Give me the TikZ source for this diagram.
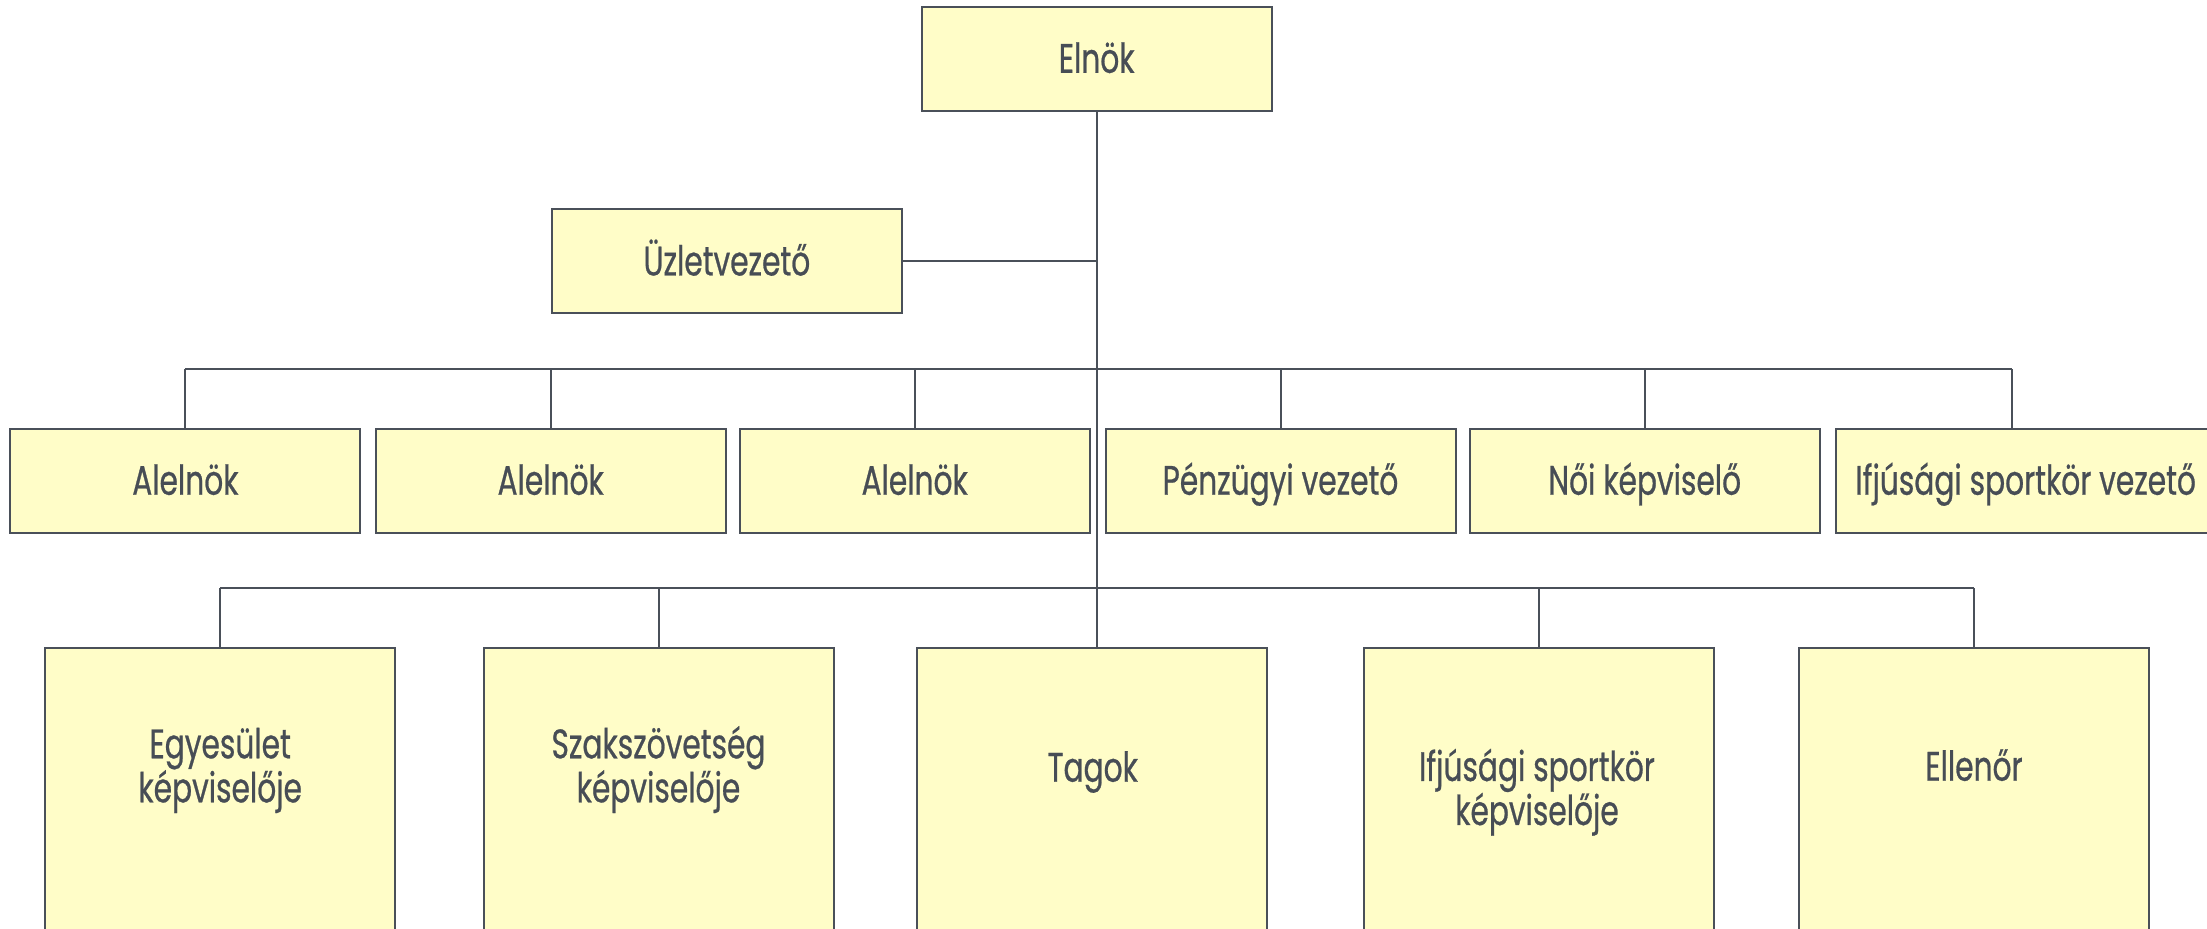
\documentclass[tikz,border=0pt]{standalone}
\usepackage{fontspec}
\setmainfont{Poppins}[FakeStretch=0.72,FakeBold=0.6]
\definecolor{boxfill}{HTML}{FFFDC8}
\definecolor{ln}{HTML}{4A5059}
\definecolor{tx}{HTML}{474D55}
\newcommand{\orgfont}{\fontsize{20.6}{22}\selectfont}
\begin{document}
\begin{tikzpicture}[x=0.5pt,y=-0.5pt,
  box/.style={draw=ln, line width=1pt, fill=boxfill, inner sep=0pt,
    minimum width=175pt, minimum height=52pt, font=\orgfont, text=tx,
    text height=14.15pt, text depth=0pt},
  tall/.style={draw=ln, line width=1pt, fill=boxfill, inner sep=0pt,
    minimum width=175pt, minimum height=160pt, anchor=north},
  lbl/.style={font=\orgfont, text=tx, align=center, inner sep=0pt, anchor=base},
  conn/.style={draw=ln, line width=1pt}]
\path[use as bounding box] (0,0) rectangle (2207,929);
\clip (0,0) rectangle (2207,929);
\coordinate (bus1) at (0,369);
\coordinate (bus2) at (0,587.7);
% top
\node[box] (elnok) at (1096.7,58.7) {Elnök};
\node[box] (uzlet) at (726.9,261.3) {Üzletvezető};
% row 1
\node[box] (a1) at (185.4,480.6) {Alelnök};
\node[box] (a2) at (550.7,480.6) {Alelnök};
\node[box] (a3) at (914.7,480.6) {Alelnök};
\node[box] (a4) at (1280.5,480.6) {Pénzügyi vezető};
\node[box] (a5) at (1644.7,480.6) {Női képviselő};
\node[box, minimum width=190pt] (a6) at (2025.7,480.6) {Ifjúsági sportkör vezető};
\coordinate (a6c) at ([xshift=-6.85pt]a6.north);
% row 2
\node[tall] (b1) at (220.2,646.7) {};
\node[tall] (b2) at (658.5,646.7) {};
\node[tall] (b3) at (1092,646.7) {};
\node[tall] (b4) at (1538.9,646.7) {};
\node[tall] (b5) at (1973.6,646.7) {};
\node[lbl] (t1) at (220.2,802.3) {Egyesület\\képviselője};
\node[lbl] (t2) at (658.5,802.3) {Szakszövetség\\képviselője};
\node[lbl] (t3) at (1092.7,781.7) {Tagok};
\node[lbl] (t4) at (1537,825) {Ifjúsági sportkör\\képviselője};
\node[lbl] (t5) at (1974,780.7) {Ellenőr};
% connectors
\draw[conn] (elnok.south) -- (elnok.south |- b3.north);
\draw[conn] (uzlet.east) -- (uzlet.east -| elnok.south);
\draw[conn] (a1.north |- bus1) -- (a6c |- bus1);
\foreach \n in {a1,a2,a3,a4,a5} \draw[conn] (\n.north) -- (\n.north |- bus1);
\draw[conn] (a6c) -- (a6c |- bus1);
\draw[conn] (b1.north |- bus2) -- (b5.north |- bus2);
\foreach \n in {b1,b2,b4,b5} \draw[conn] (\n.north) -- (\n.north |- bus2);
\end{tikzpicture}
\end{document}
